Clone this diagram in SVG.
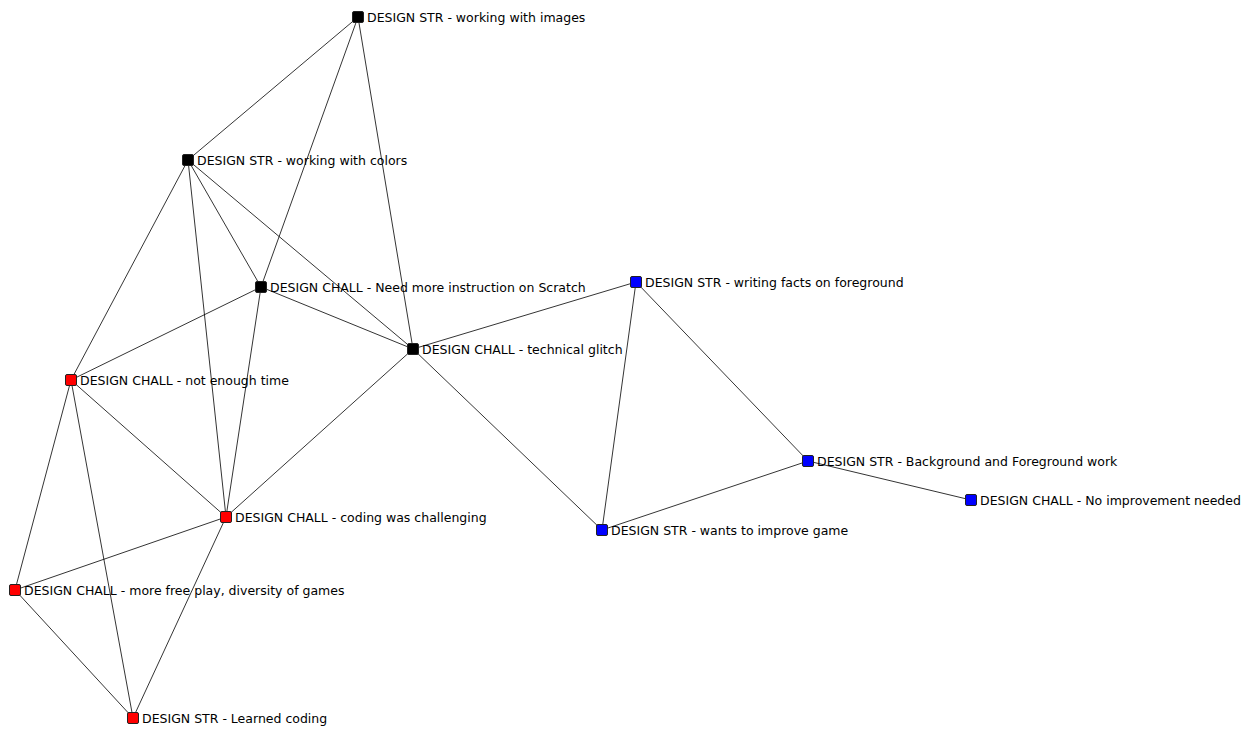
<svg xmlns="http://www.w3.org/2000/svg" width="1254" height="730" viewBox="0 0 1254 730">
  <style>
    .edge { stroke: #000; stroke-width: 0.8; fill: none; }
    .node rect { stroke: #222; stroke-width: 1; }
    .black rect { fill: #000; }
    .red rect { fill: #f00; }
    .blue rect { fill: #00f; }
    .node text { font-family: "DejaVu Sans", "Liberation Sans", sans-serif; font-size: 12.5px; fill: #000; }
  </style>
  <rect width="1254" height="730" fill="#fff"/>
  <g id="edges">
    <line class="edge" x1="358" y1="17" x2="188" y2="160"/>
    <line class="edge" x1="358" y1="17" x2="261" y2="287"/>
    <line class="edge" x1="358" y1="17" x2="413" y2="349"/>
    <line class="edge" x1="188" y1="160" x2="71" y2="380"/>
    <line class="edge" x1="188" y1="160" x2="226" y2="517"/>
    <line class="edge" x1="188" y1="160" x2="261" y2="287"/>
    <line class="edge" x1="188" y1="160" x2="413" y2="349"/>
    <line class="edge" x1="261" y1="287" x2="413" y2="349"/>
    <line class="edge" x1="261" y1="287" x2="71" y2="380"/>
    <line class="edge" x1="261" y1="287" x2="226" y2="517"/>
    <line class="edge" x1="413" y1="349" x2="226" y2="517"/>
    <line class="edge" x1="413" y1="349" x2="636" y2="282"/>
    <line class="edge" x1="413" y1="349" x2="602" y2="530"/>
    <line class="edge" x1="71" y1="380" x2="226" y2="517"/>
    <line class="edge" x1="71" y1="380" x2="15" y2="590"/>
    <line class="edge" x1="71" y1="380" x2="133" y2="718"/>
    <line class="edge" x1="226" y1="517" x2="15" y2="590"/>
    <line class="edge" x1="226" y1="517" x2="133" y2="718"/>
    <line class="edge" x1="15" y1="590" x2="133" y2="718"/>
    <line class="edge" x1="636" y1="282" x2="602" y2="530"/>
    <line class="edge" x1="636" y1="282" x2="808" y2="461"/>
    <line class="edge" x1="808" y1="461" x2="602" y2="530"/>
    <line class="edge" x1="808" y1="461" x2="971" y2="500"/>
  </g>
  <g id="n-images" class="node black"><rect x="352.5" y="11.5" width="11" height="11" rx="1.5"/><text x="367" y="22">DESIGN STR - working with images</text></g>
  <g id="n-colors" class="node black"><rect x="182.5" y="154.5" width="11" height="11" rx="1.5"/><text x="197" y="165">DESIGN STR - working with colors</text></g>
  <g id="n-instruction" class="node black"><rect x="255.5" y="281.5" width="11" height="11" rx="1.5"/><text x="270" y="292">DESIGN CHALL - Need more instruction on Scratch</text></g>
  <g id="n-glitch" class="node black"><rect x="407.5" y="343.5" width="11" height="11" rx="1.5"/><text x="422" y="354">DESIGN CHALL - technical glitch</text></g>
  <g id="n-time" class="node red"><rect x="65.5" y="374.5" width="11" height="11" rx="1.5"/><text x="80" y="385">DESIGN CHALL - not enough time</text></g>
  <g id="n-coding" class="node red"><rect x="220.5" y="511.5" width="11" height="11" rx="1.5"/><text x="235" y="522">DESIGN CHALL - coding was challenging</text></g>
  <g id="n-freeplay" class="node red"><rect x="9.5" y="584.5" width="11" height="11" rx="1.5"/><text x="24" y="595">DESIGN CHALL - more free play, diversity of games</text></g>
  <g id="n-learned" class="node red"><rect x="127.5" y="712.5" width="11" height="11" rx="1.5"/><text x="142" y="723">DESIGN STR - Learned coding</text></g>
  <g id="n-facts" class="node blue"><rect x="630.5" y="276.5" width="11" height="11" rx="1.5"/><text x="645" y="287">DESIGN STR - writing facts on foreground</text></g>
  <g id="n-bgfg" class="node blue"><rect x="802.5" y="455.5" width="11" height="11" rx="1.5"/><text x="817" y="466">DESIGN STR - Background and Foreground work</text></g>
  <g id="n-noimprove" class="node blue"><rect x="965.5" y="494.5" width="11" height="11" rx="1.5"/><text x="980" y="505">DESIGN CHALL - No improvement needed</text></g>
  <g id="n-improve" class="node blue"><rect x="596.5" y="524.5" width="11" height="11" rx="1.5"/><text x="611" y="535">DESIGN STR - wants to improve game</text></g>
</svg>
